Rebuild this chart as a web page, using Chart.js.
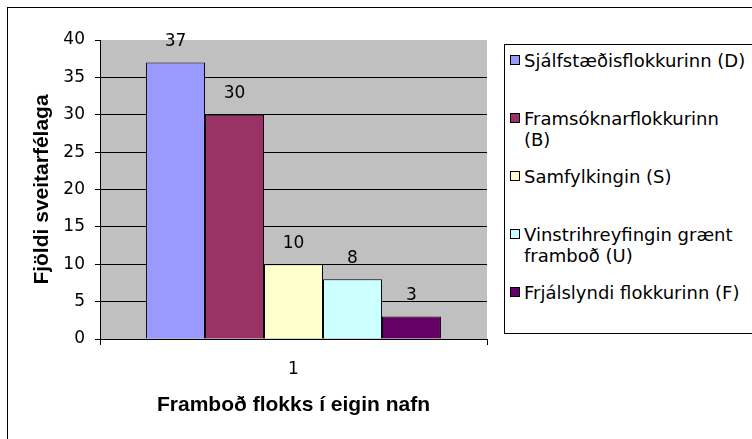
<!DOCTYPE html>
<html>
<head>
<meta charset="utf-8">
<script src="https://cdn.jsdelivr.net/npm/chart.js@4.4.0/dist/chart.umd.min.js"></script>
<style>
  html, body { margin: 0; padding: 0; background: #fff; overflow: hidden; }
  #wrap { position: relative; width: 752px; height: 439px; overflow: hidden; }
  #frame { position: absolute; left: 7px; top: 7px; width: 800px; height: 500px;
           border-left: 1px solid #000; border-top: 1px solid #000; }
  #chart { position: absolute; left: 0; top: 0; }
  #legend { position: absolute; left: 504px; top: 44px; width: 300px; height: 288px;
            border: 1px solid #000; background: #fff;
            font-family: "DejaVu Sans"; font-size: 18px; line-height: 21px; color: #000; }
  .item { position: absolute; left: 0; width: 245px; }
  .swatch { position: absolute; left: 5px; top: 5px; width: 8px; height: 8px; border: 1px solid #000; }
  .text { margin-left: 19px; width: 226px; }
</style>
</head>
<body>
<div id="wrap">
  <div id="frame"></div>
  <canvas id="chart" width="752" height="439"></canvas>
  <div id="legend"></div>
</div>
<script>
const categories = ["1"];
const parties = [
  "Sjálfstæðisflokkurinn (D)",
  "Framsóknarflokkurinn (B)",
  "Samfylkingin (S)",
  "Vinstrihreyfingin grænt framboð (U)",
  "Frjálslyndi flokkurinn (F)"
];
const counts = [37, 30, 10, 8, 3];
const yTicks = [0, 5, 10, 15, 20, 25, 30, 35, 40];
const yTitle = "Fjöldi sveitarfélaga";
const xTitle = "Framboð flokks í eigin nafn";

const barColors = ["#9999ff", "#993366", "#ffffcc", "#ccffff", "#660066"];

// gray plot area like Excel
const plotBg = {
  id: "plotBg",
  beforeDraw(chart) {
    const { ctx, chartArea: a } = chart;
    ctx.save();
    ctx.fillStyle = "#c0c0c0";
    ctx.fillRect(a.left, a.top, a.width, a.height);
    ctx.restore();
  }
};

// value above each bar
const valueLabels = {
  id: "valueLabels",
  afterDatasetsDraw(chart) {
    const ctx = chart.ctx;
    ctx.save();
    ctx.font = '17px "DejaVu Sans"';
    ctx.fillStyle = "#000";
    ctx.textAlign = "center";
    ctx.textBaseline = "middle";
    chart.data.datasets.forEach((ds, i) => {
      chart.getDatasetMeta(i).data.forEach((bar, j) => {
        ctx.fillText(ds.data[j], bar.x, bar.y - 21);
      });
    });
    ctx.restore();
  }
};

const datasets = parties.map((name, i) => ({
  label: name,
  data: [counts[i]],
  backgroundColor: barColors[i],
  borderColor: "#000",
  borderWidth: 1,
  categoryPercentage: 0.762,
  barPercentage: 1.0
}));

const chart = new Chart(document.getElementById("chart").getContext("2d"), {
  type: "bar",
  data: { labels: categories, datasets: datasets },
  options: {
    responsive: false,
    animation: false,
    layout: { padding: { left: 0, top: 40, right: 265, bottom: 0 } },
    plugins: { legend: { display: false }, tooltip: { enabled: false } },
    scales: {
      x: {
        afterFit(s) { s.height = 100; },
        grid: { offset: true, drawOnChartArea: false, tickLength: 6, color: "#000", tickColor: "#000" },
        border: { color: "#000", width: 1 },
        ticks: { color: "#000", font: { family: "DejaVu Sans", size: 17 }, padding: 14 },
        title: { display: true, text: xTitle, color: "#000",
                 font: { family: "Liberation Sans", size: 21, weight: "bold" },
                 padding: { top: 0, bottom: 21 } }
      },
      y: {
        min: 0,
        max: 40,
        afterFit(s) { s.width = 100; },
        afterBuildTicks(s) { s.ticks = yTicks.map(v => ({ value: v })); },
        ticks: { color: "#000", font: { family: "DejaVu Sans", size: 17 }, padding: 10 },
        grid: {
          color: c => (c.tick && c.tick.value === 40 ? "rgba(0,0,0,0)" : "#000"),
          tickColor: "#000",
          tickLength: 5
        },
        border: { color: "#000", width: 1 },
        title: { display: true, text: yTitle, color: "#000",
                 font: { family: "Liberation Sans", size: 21, weight: "bold" },
                 padding: { top: 30, bottom: 0 } }
      }
    }
  },
  plugins: [plotBg, valueLabels]
});

// html legend built from the datasets
const legend = document.getElementById("legend");
chart.data.datasets.forEach((ds, i) => {
  const item = document.createElement("div");
  item.className = "item";
  item.style.top = (5 + i * 58) + "px";
  const sw = document.createElement("div");
  sw.className = "swatch";
  sw.style.background = ds.backgroundColor;
  const tx = document.createElement("div");
  tx.className = "text";
  tx.textContent = ds.label;
  item.appendChild(sw);
  item.appendChild(tx);
  legend.appendChild(item);
});
</script>
</body>
</html>
